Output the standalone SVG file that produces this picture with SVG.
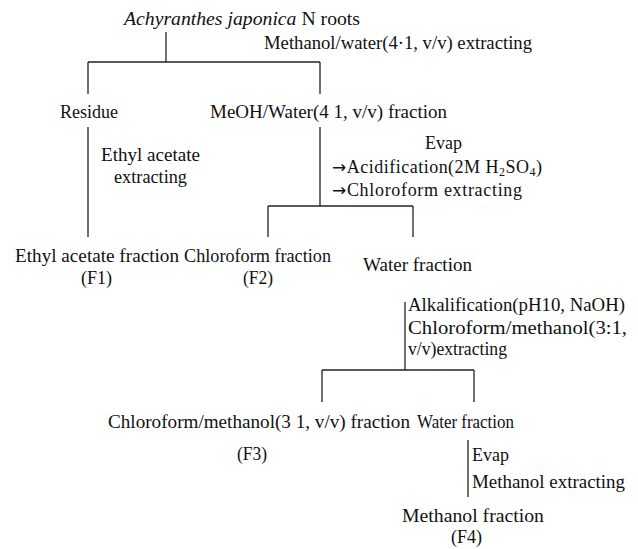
<svg xmlns="http://www.w3.org/2000/svg" width="638" height="549" viewBox="0 0 638 549">
<style>
text{font-family:"Liberation Serif","DejaVu Serif","Times New Roman",serif;font-size:18px;fill:#111}
.it{font-style:italic}
.sub{font-size:12px}
.arr{font-family:"DejaVu Sans",sans-serif;font-size:17px}
#connectors line{stroke:#222;stroke-width:1.3;fill:none}
</style>
<rect width="638" height="549" fill="#fff"/>
<g id="connectors">
<line x1="166" y1="32" x2="166" y2="62"/>
<line x1="88" y1="62" x2="320" y2="62"/>
<line x1="88" y1="62" x2="88" y2="94"/>
<line x1="320" y1="62" x2="320" y2="94"/>
<line x1="88" y1="127" x2="88" y2="237"/>
<line x1="320" y1="127" x2="320" y2="206"/>
<line x1="268" y1="206" x2="413" y2="206"/>
<line x1="268" y1="206" x2="268" y2="237"/>
<line x1="413" y1="206" x2="413" y2="237"/>
<line x1="405" y1="302" x2="405" y2="370"/>
<line x1="322" y1="370" x2="474" y2="370"/>
<line x1="322" y1="370" x2="322" y2="402"/>
<line x1="474" y1="370" x2="474" y2="402"/>
<line x1="468" y1="440" x2="468" y2="497"/>
</g>
<g id="root"><text x="124" y="25" textLength="236" lengthAdjust="spacingAndGlyphs"><tspan class="it">Achyranthes japonica</tspan> N  roots</text></g>
<g id="step1"><text x="264" y="49" textLength="268" lengthAdjust="spacingAndGlyphs">Methanol/water(4·1, v/v) extracting</text></g>
<g id="residue"><text x="60" y="118" textLength="58" lengthAdjust="spacingAndGlyphs">Residue</text></g>
<g id="meoh"><text x="210" y="118" textLength="237" lengthAdjust="spacingAndGlyphs">MeOH/Water(4 1, v/v) fraction</text></g>
<g id="step2">
<text x="101" y="161" textLength="99" lengthAdjust="spacingAndGlyphs">Ethyl acetate</text>
<text x="114" y="183" textLength="73" lengthAdjust="spacingAndGlyphs">extracting</text>
</g>
<g id="step3">
<text x="425" y="149">Evap</text>
<text x="332" y="173" textLength="210" lengthAdjust="spacing"><tspan class="arr">→</tspan>Acidification(2M H<tspan class="sub" dy="3">2</tspan><tspan dy="-3">SO</tspan><tspan class="sub" dy="3">4</tspan><tspan dy="-3">)</tspan></text>
<text x="332" y="196" textLength="190" lengthAdjust="spacing"><tspan class="arr">→</tspan>Chloroform extracting</text>
</g>
<g id="f1">
<text x="15" y="262" textLength="164" lengthAdjust="spacingAndGlyphs">Ethyl acetate fraction</text>
<text x="81" y="284" textLength="31" lengthAdjust="spacingAndGlyphs">(F1)</text>
</g>
<g id="f2">
<text x="184" y="262" textLength="147" lengthAdjust="spacingAndGlyphs">Chloroform fraction</text>
<text x="243" y="284" textLength="30" lengthAdjust="spacingAndGlyphs">(F2)</text>
</g>
<g id="water1"><text x="363" y="271" textLength="109" lengthAdjust="spacingAndGlyphs">Water fraction</text></g>
<g id="step4">
<text x="408" y="311" textLength="217" lengthAdjust="spacingAndGlyphs">Alkalification(pH10, NaOH)</text>
<text x="408" y="334" textLength="219" lengthAdjust="spacingAndGlyphs">Chloroform/methanol(3:1,</text>
<text x="408" y="355" textLength="99" lengthAdjust="spacingAndGlyphs">v/v)extracting</text>
</g>
<g id="f3">
<text x="108" y="428" textLength="302" lengthAdjust="spacingAndGlyphs">Chloroform/methanol(3 1, v/v) fraction</text>
<text x="237" y="460" textLength="30" lengthAdjust="spacingAndGlyphs">(F3)</text>
</g>
<g id="water2"><text x="417" y="428" textLength="97" lengthAdjust="spacingAndGlyphs">Water fraction</text></g>
<g id="step5">
<text x="472" y="461">Evap</text>
<text x="472" y="488" textLength="153" lengthAdjust="spacingAndGlyphs">Methanol extracting</text>
</g>
<g id="f4">
<text x="402" y="522" textLength="142" lengthAdjust="spacingAndGlyphs">Methanol fraction</text>
<text x="451" y="543" textLength="31" lengthAdjust="spacingAndGlyphs">(F4)</text>
</g>
</svg>
